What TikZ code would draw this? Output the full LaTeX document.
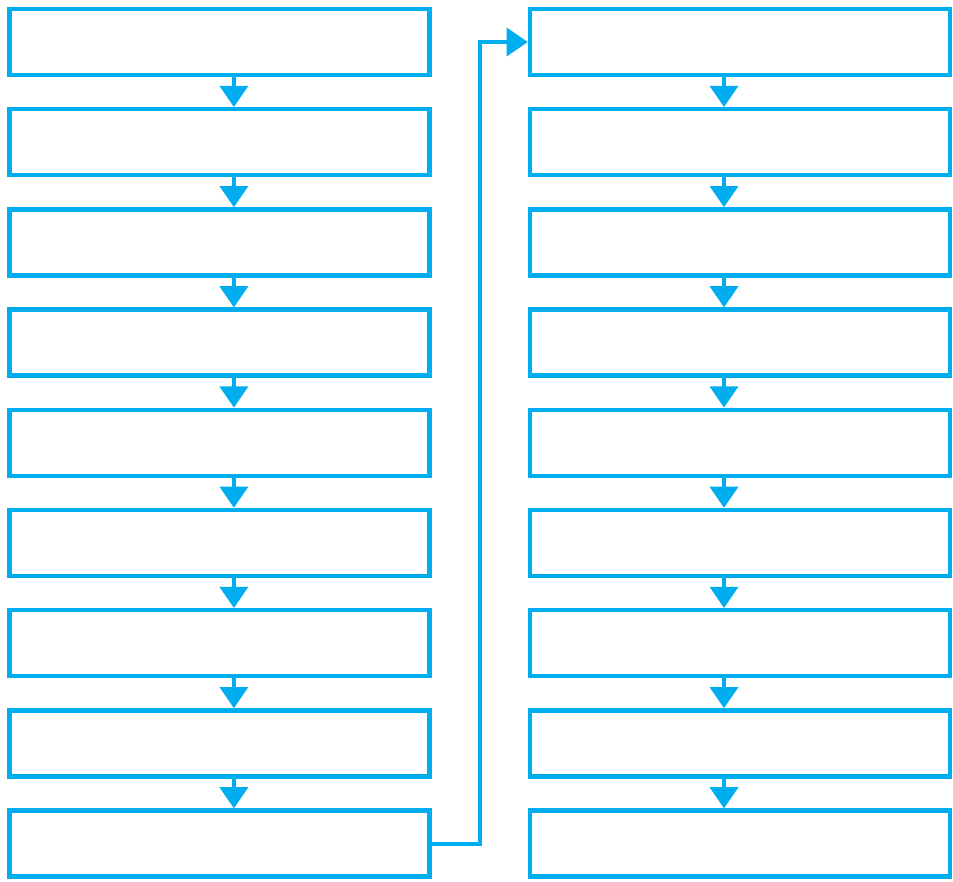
\documentclass[tikz,border=0pt]{standalone}
\usepackage{xcolor}
\usepackage{tikz}
\usetikzlibrary{arrows.meta,positioning}

\definecolor{flowblue}{HTML}{00AEEF}

\begin{document}
\begin{tikzpicture}[
  box/.style={draw=flowblue, line width=0.11cm, minimum width=10.5cm,
              minimum height=1.65cm, fill=white},
  arr/.style={-{Triangle[length=0.53cm, width=0.7cm]}, draw=flowblue,
              line width=0.095cm},
]

\useasboundingbox (0,0) rectangle (23.825,-22.025);

%% --- Columna izquierda ---
\node[box] (l1) at (5.4875,-1.05) {};
\node[box, below=0.745cm of l1] (l2) {};
\node[box, below=0.745cm of l2] (l3) {};
\node[box, below=0.745cm of l3] (l4) {};
\node[box, below=0.745cm of l4] (l5) {};
\node[box, below=0.745cm of l5] (l6) {};
\node[box, below=0.745cm of l6] (l7) {};
\node[box, below=0.745cm of l7] (l8) {};
\node[box, below=0.745cm of l8] (l9) {};

%% --- Columna derecha ---
\node[box] (r1) at (18.5,-1.05) {};
\node[box, below=0.745cm of r1] (r2) {};
\node[box, below=0.745cm of r2] (r3) {};
\node[box, below=0.745cm of r3] (r4) {};
\node[box, below=0.745cm of r4] (r5) {};
\node[box, below=0.745cm of r5] (r6) {};
\node[box, below=0.745cm of r6] (r7) {};
\node[box, below=0.745cm of r7] (r8) {};
\node[box, below=0.745cm of r8] (r9) {};

%% --- Flechas ---
\draw[arr] ([xshift=0.36cm]l1.south) -- ([xshift=0.36cm]l2.north);
\draw[arr] ([xshift=0.36cm]l2.south) -- ([xshift=0.36cm]l3.north);
\draw[arr] ([xshift=0.36cm]l3.south) -- ([xshift=0.36cm]l4.north);
\draw[arr] ([xshift=0.36cm]l4.south) -- ([xshift=0.36cm]l5.north);
\draw[arr] ([xshift=0.36cm]l5.south) -- ([xshift=0.36cm]l6.north);
\draw[arr] ([xshift=0.36cm]l6.south) -- ([xshift=0.36cm]l7.north);
\draw[arr] ([xshift=0.36cm]l7.south) -- ([xshift=0.36cm]l8.north);
\draw[arr] ([xshift=0.36cm]l8.south) -- ([xshift=0.36cm]l9.north);

\draw[arr] ([xshift=-0.4cm]r1.south) -- ([xshift=-0.4cm]r2.north);
\draw[arr] ([xshift=-0.4cm]r2.south) -- ([xshift=-0.4cm]r3.north);
\draw[arr] ([xshift=-0.4cm]r3.south) -- ([xshift=-0.4cm]r4.north);
\draw[arr] ([xshift=-0.4cm]r4.south) -- ([xshift=-0.4cm]r5.north);
\draw[arr] ([xshift=-0.4cm]r5.south) -- ([xshift=-0.4cm]r6.north);
\draw[arr] ([xshift=-0.4cm]r6.south) -- ([xshift=-0.4cm]r7.north);
\draw[arr] ([xshift=-0.4cm]r7.south) -- ([xshift=-0.4cm]r8.north);
\draw[arr] ([xshift=-0.4cm]r8.south) -- ([xshift=-0.4cm]r9.north);

%% --- Enlace entre columnas ---
\draw[arr] (l9.east) -- ++(1.2cm,0) |- (r1.west);

\end{tikzpicture}
\end{document}
